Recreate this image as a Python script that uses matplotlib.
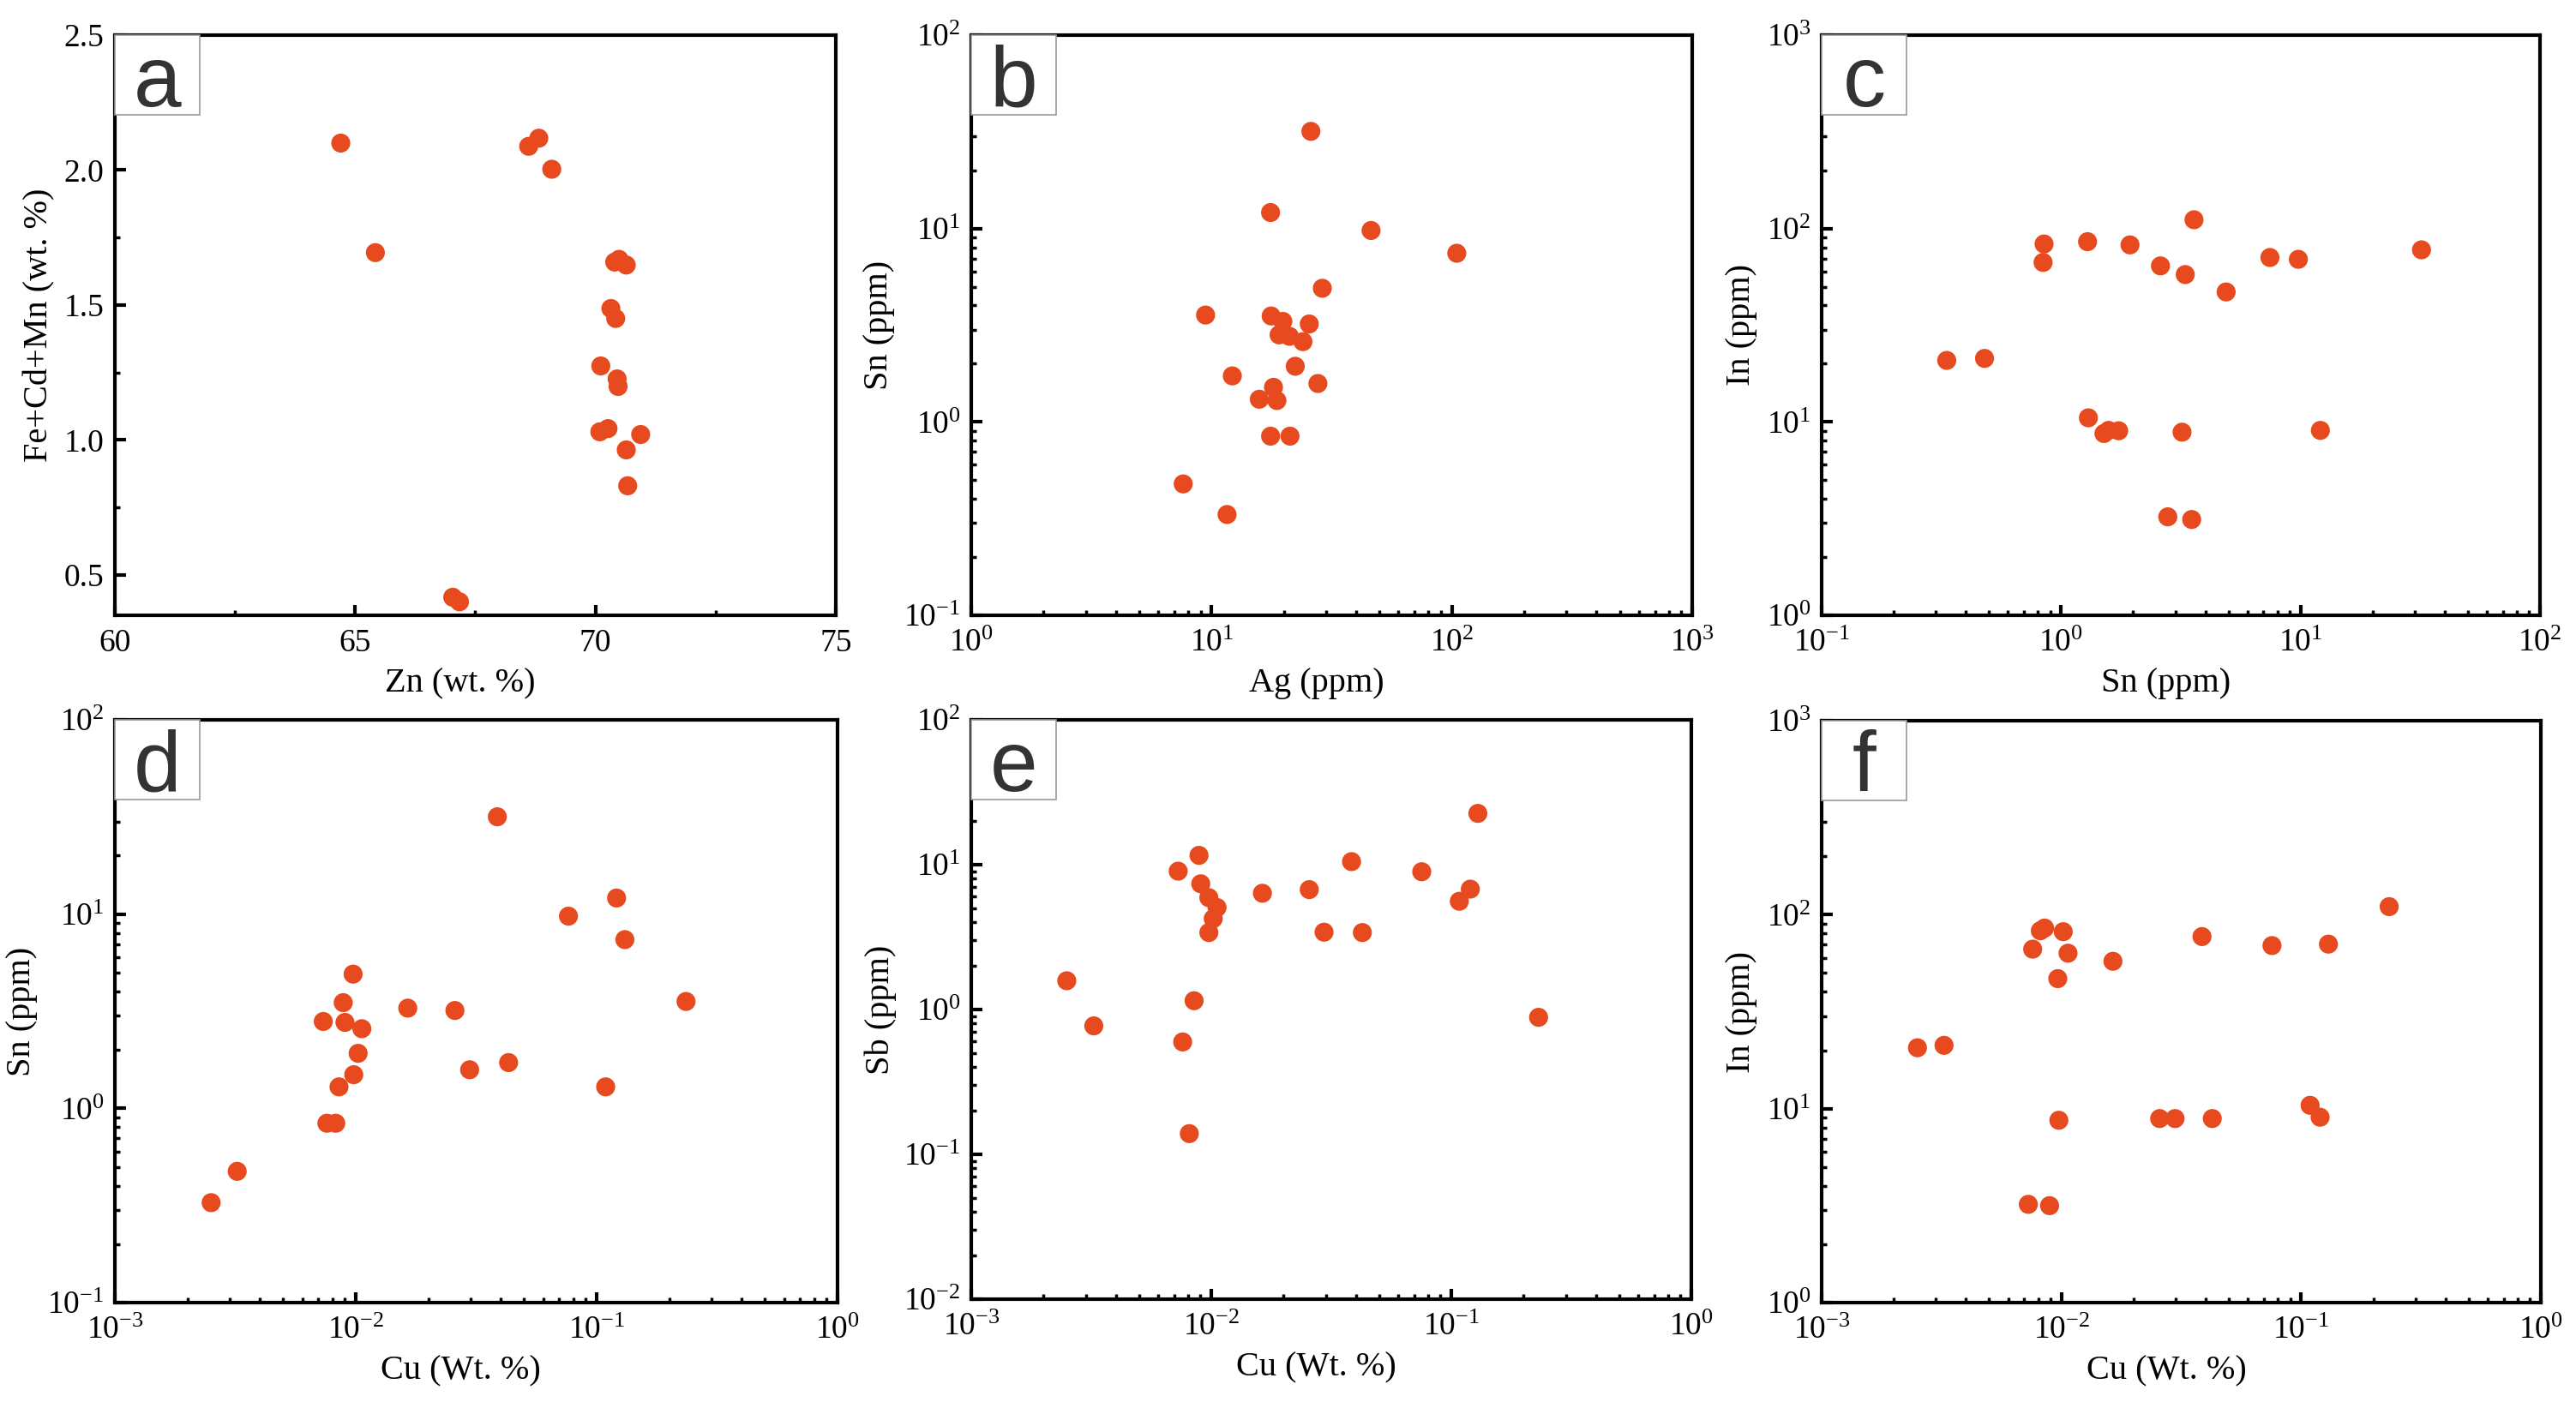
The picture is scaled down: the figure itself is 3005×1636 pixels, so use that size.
import matplotlib
matplotlib.use("Agg")
import matplotlib.pyplot as plt
from matplotlib import font_manager
from matplotlib.patches import Rectangle
from matplotlib.ticker import LogLocator, MultipleLocator, NullFormatter
import numpy as np

available = {f.name for f in font_manager.fontManager.ttflist}
serif_name = next((n for n in ['Liberation Serif', 'Tinos', 'Times New Roman', 'Noto Serif', 'DejaVu Serif']
                   if n in available), 'DejaVu Serif')
sans_name = next((n for n in ['Liberation Sans', 'Arimo', 'Arial', 'DejaVu Sans'] if n in available), 'DejaVu Sans')

plt.rcParams['font.family'] = 'serif'
plt.rcParams['font.serif'] = [serif_name]
plt.rcParams['mathtext.fontset'] = 'custom'
plt.rcParams['mathtext.rm'] = serif_name
plt.rcParams['mathtext.it'] = serif_name + ':italic'
plt.rcParams['mathtext.bf'] = serif_name + ':bold'

# ---------------- data ----------------
# (a) Zn vs Fe+Cd+Mn
a_zn = [64.70, 65.42, 68.61, 68.82, 69.09, 70.40, 70.49, 70.64, 70.32, 70.42,
        70.11, 70.45, 70.47, 70.09, 70.26, 70.94, 70.64, 70.67, 67.03, 67.17]
a_fecdmn = [2.10, 1.694, 2.088, 2.118, 2.003, 1.659, 1.669, 1.648, 1.487, 1.450,
            1.274, 1.226, 1.198, 1.030, 1.042, 1.020, 0.963, 0.830, 0.417, 0.400]

# (b) Ag vs Sn
b_ag = [25.9, 17.6, 46.1, 104.8, 28.9, 9.44, 17.7, 19.8, 25.5, 19.1, 21.1,
        24.0, 22.3, 12.2, 27.7, 18.1, 15.8, 18.7, 17.6, 21.2, 7.62, 11.6]
b_sn = [31.8, 12.1, 9.77, 7.45, 4.91, 3.57, 3.53, 3.31, 3.21, 2.82, 2.77,
        2.60, 1.94, 1.73, 1.58, 1.51, 1.31, 1.29, 0.844, 0.844, 0.478, 0.332]

# (c) Sn vs In
c_sn = [3.59, 0.849, 1.29, 1.94, 0.841, 2.60, 3.30, 4.89, 7.45, 9.79, 32.0,
        0.333, 0.479, 1.30, 1.51, 1.58, 1.74, 3.20, 12.1, 2.79, 3.51]
c_in = [111, 83.2, 85.5, 82.3, 66.8, 64.1, 57.8, 47.0, 70.8, 69.3, 77.6,
        20.8, 21.3, 10.5, 8.71, 9.04, 9.0, 8.85, 9.04, 3.23, 3.13]

# (d) Cu vs Sn
d_cu = [0.0387, 0.121, 0.0764, 0.131, 0.00975, 0.00887, 0.01644, 0.0258, 0.235,
        0.00733, 0.00902, 0.0106, 0.01023, 0.0431, 0.0297, 0.00981, 0.00852,
        0.109, 0.00759, 0.00826, 0.00322, 0.00251]
d_sn = [31.7, 12.1, 9.76, 7.39, 4.91, 3.50, 3.28, 3.19, 3.55, 2.80, 2.77, 2.57,
        1.92, 1.72, 1.58, 1.49, 1.29, 1.29, 0.838, 0.838, 0.474, 0.327]

# (e) Cu vs Sb
e_cu = [0.129, 0.00889, 0.0384, 0.00728, 0.0753, 0.00904, 0.01633, 0.0256, 0.120,
        0.108, 0.00977, 0.01057, 0.01019, 0.00977, 0.0295, 0.0426, 0.0025,
        0.00848, 0.231, 0.00324, 0.0076, 0.0081]
e_sb = [22.6, 11.6, 10.5, 9.02, 8.94, 7.38, 6.35, 6.73, 6.78, 5.59, 5.92, 5.06,
        4.24, 3.40, 3.42, 3.40, 1.58, 1.15, 0.883, 0.771, 0.597, 0.139]

# (f) Cu vs In
f_cu = [0.233, 0.00817, 0.00851, 0.01018, 0.00759, 0.01066, 0.01641, 0.00966,
        0.0386, 0.0756, 0.130, 0.00251, 0.00324, 0.109, 0.120, 0.00976, 0.0257,
        0.0298, 0.0426, 0.00728, 0.00893]
f_in = [110, 82.6, 85.3, 81.7, 66.4, 63.3, 57.5, 46.8, 77.1, 69.3, 70.5, 20.6,
        21.2, 10.4, 9.03, 8.71, 8.89, 8.89, 8.89, 3.21, 3.16]

panel_letters = ['a', 'b', 'c', 'd', 'e', 'f']
x_labels = ['Zn (wt. %)', 'Ag (ppm)', 'Sn (ppm)', 'Cu (Wt. %)', 'Cu (Wt. %)', 'Cu (Wt. %)']
y_labels = ['Fe+Cd+Mn (wt. %)', 'Sn (ppm)', 'In (ppm)', 'Sn (ppm)', 'Sb (ppm)', 'In (ppm)']

# ---------------- figure ----------------
W, H = 3005, 1636
fig = plt.figure(figsize=(W / 100, H / 100), dpi=100)

def rect(l, r, t, b):
    return [l / W, 1 - b / H, (r - l) / W, (b - t) / H]

rects = [
    rect(134, 975, 41, 718),
    rect(1133, 1974, 41, 718),
    rect(2125, 2963, 41, 718),
    rect(134, 977, 840, 1520),
    rect(1133, 1973, 840, 1516),
    rect(2125, 2964, 841, 1520),
]

MCOL = '#E64A1E'
TICK_FS = 27
LABEL_FS = 29

datasets = [
    (a_zn, a_fecdmn, False, (60, 75), (0.35, 2.5)),
    (b_ag, b_sn, True, (1, 1000), (0.1, 100)),
    (c_sn, c_in, True, (0.1, 100), (1, 1000)),
    (d_cu, d_sn, True, (1e-3, 1), (0.1, 100)),
    (e_cu, e_sb, True, (1e-3, 1), (0.01, 100)),
    (f_cu, f_in, True, (1e-3, 1), (1, 1000)),
]

ylab_x = [-0.105, -0.128, -0.111, -0.129, -0.126, -0.111]

for i, (xs, ys, logp, xl, yl) in enumerate(datasets):
    ax = fig.add_axes(rects[i])
    ax.scatter(xs, ys, s=255, color=MCOL, edgecolors='none', zorder=3, clip_on=False)
    if logp:
        ax.set_xscale('log')
        ax.set_yscale('log')
        for axis in (ax.xaxis, ax.yaxis):
            axis.set_major_locator(LogLocator(base=10, numticks=10))
            axis.set_minor_locator(LogLocator(base=10, subs=np.arange(2, 10), numticks=10))
            axis.set_minor_formatter(NullFormatter())
    else:
        ax.xaxis.set_major_locator(MultipleLocator(5))
        ax.xaxis.set_minor_locator(MultipleLocator(2.5))
        ax.yaxis.set_major_locator(MultipleLocator(0.5))
        ax.yaxis.set_minor_locator(MultipleLocator(0.25))
    ax.set_xlim(*xl)
    ax.set_ylim(*yl)
    for sp in ax.spines.values():
        sp.set_linewidth(3.0)
    ax.tick_params(which='both', direction='in', top=False, right=False)
    ax.tick_params(which='major', length=9, width=3.0, labelsize=TICK_FS)
    ax.tick_params(which='minor', length=4.5, width=2.5)
    ax.tick_params(axis='x', which='major', pad=11)
    ax.tick_params(axis='y', which='major', pad=9)
    for lab in ax.get_xticklabels() + ax.get_yticklabels():
        lab.set_family(serif_name)

    ax.set_xlabel(x_labels[i], fontsize=LABEL_FS, family=serif_name)
    ax.xaxis.set_label_coords(0.479, -0.118)
    ax.xaxis.label.set_va('center')
    ax.set_ylabel(y_labels[i], fontsize=LABEL_FS, family=serif_name)
    ax.yaxis.set_label_coords(ylab_x[i], 0.5)
    ax.yaxis.label.set_va('center')

    # panel letter box
    bw = 99 / (rects[i][2] * W)
    bh = 93 / (rects[i][3] * H)
    ax.add_patch(Rectangle((0, 1 - bh), bw, bh, transform=ax.transAxes,
                           facecolor='white', edgecolor='#999999', linewidth=1.2,
                           zorder=4, clip_on=False))
    ax.text(bw / 2, 1 - bh / 2, panel_letters[i], transform=ax.transAxes,
            fontsize=72, family=sans_name, color='#333333',
            ha='center', va='center_baseline', zorder=5)

fig.savefig('out.png', dpi=100, facecolor='white')
